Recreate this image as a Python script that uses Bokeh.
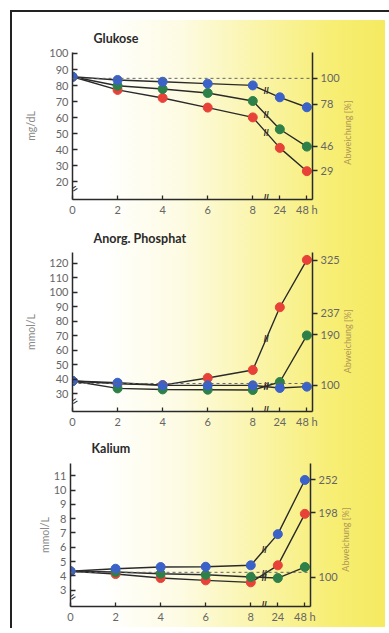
import numpy as np
from bokeh.plotting import figure
from bokeh.models import LinearAxis, FixedTicker, Span, Spacer
from bokeh.layouts import column, row
from bokeh.embed import file_html
from bokeh.resources import INLINE

# ---------------- data ----------------
hours = [0, 2, 4, 6, 8, 24, 48]
hour_labels = ["0", "2", "4", "6", "8", "24", "48 h"]

glu_title = "Glukose"
glu_unit = "mg/dL"
glu_blue = [85.5, 83.5, 82.4, 81.2, 80.1, 72.7, 66.5]
glu_green = [85.5, 79.9, 77.9, 75.4, 70.4, 52.8, 42.0]
glu_red = [85.5, 77.3, 72.3, 66.3, 60.2, 41.2, 26.7]
glu_base = 84.5
glu_ticks = [20, 30, 40, 50, 60, 70, 80, 90, 100]
glu_pct_pos = [84.5, 68.4, 42.3, 27.0]
glu_pct = ["100", "78", "46", "29"]

pho_title = "Anorg. Phosphat"
pho_unit = "mmol/L"
pho_blue = [38.9, 37.7, 36.0, 35.9, 35.9, 34.1, 35.0]
pho_green = [38.9, 33.8, 33.1, 32.9, 32.7, 38.2, 70.3]
pho_red = [38.9, 37.0, 36.1, 41.0, 46.5, 89.7, 122.3]
pho_base = 37.2
pho_ticks = [30, 40, 50, 60, 70, 80, 90, 100, 110, 120]
pho_pct_pos = [36.1, 70.8, 85.5, 122.1]
pho_pct = ["100", "190", "237", "325"]

kal_title = "Kalium"
kal_unit = "mmol/L"
kal_blue = [4.32, 4.50, 4.62, 4.64, 4.74, 6.92, 10.71]
kal_green = [4.32, 4.27, 4.15, 4.08, 3.92, 3.85, 4.62]
kal_red = [4.32, 4.13, 3.85, 3.69, 3.55, 4.74, 8.34]
kal_base = 4.25
kal_ticks = [3, 4, 5, 6, 7, 8, 9, 10, 11]
kal_pct_pos = [3.9, 8.43, 10.71]
kal_pct = ["100", "198", "252"]

pct_title = "Abweichung [%]"

BLUE, GREEN, RED = "#3b62c8", "#2e8049", "#e84238"
FONT = "Lato"
INK = "#2a2a2a"
RLAB_FS = 9.0

# broken time axis: 0..8 h linear, then compressed 24 h and 48 h
xpos = [float(v) for v in np.interp(hours, [0, 8, 24, 48], [0, 80, 92, 104])]


def pad(px, fs=RLAB_FS):
    """whitespace of roughly px pixels (em / en / thin spaces)"""
    n = int(px // fs)
    rem = px - n * fs
    s = "\u2003" * n
    if rem > 0.75 * fs:
        s += "\u2003"
    elif rem > 0.35 * fs:
        s += "\u2002"
    elif rem > 0.1 * fs:
        s += "\u2009"
    return s


def make_panel(title, unit, blue, green, red, base, yticks, pct_pos, pct_lab,
               yr, ybreak, frame_h, left, right, top, bottom, t_off, t_so,
               ylab_so, rgap):
    p = figure(frame_width=240, frame_height=frame_h,
               x_range=(0, 106.5), y_range=yr,
               output_backend="svg", toolbar_location=None,
               min_border_left=left, min_border_right=right,
               min_border_top=top, min_border_bottom=bottom,
               border_fill_color=None, background_fill_color=None,
               outline_line_color=None)
    p.grid.visible = False

    p.title.text = title
    p.title.align = "left"
    p.title.offset = t_off
    p.title.text_font = FONT
    p.title.text_font_size = "12.5px"
    p.title.text_font_style = "bold"
    p.title.text_color = INK
    p.title.standoff = t_so

    xa = p.xaxis[0]
    xa.ticker = FixedTicker(ticks=xpos)
    xa.major_label_overrides = {xp: lab for xp, lab in zip(xpos, hour_labels)}
    xa.minor_tick_line_color = None
    xa.major_tick_in = 4
    xa.major_tick_out = 0
    xa.major_label_standoff = 3

    ya = p.yaxis[0]
    ya.ticker = FixedTicker(ticks=yticks)
    ya.minor_tick_line_color = None
    ya.major_tick_in = 5
    ya.major_tick_out = 0
    ya.major_label_standoff = 4
    ya.axis_label = unit
    ya.axis_label_standoff = ylab_so
    ya.axis_label_text_font = FONT
    ya.axis_label_text_font_size = "10.5px"
    ya.axis_label_text_font_style = "normal"
    ya.axis_label_text_color = "#8a8a8a"

    ra = LinearAxis(ticker=FixedTicker(ticks=pct_pos),
                    major_label_overrides={v: s for v, s in zip(pct_pos, pct_lab)})
    ra.minor_tick_line_color = None
    ra.major_tick_in = 0
    ra.major_tick_out = 5
    ra.major_label_standoff = 3
    props = ra.properties()
    label_text = pct_title
    if "axis_label_orientation" in props:
        ra.axis_label_orientation = np.pi / 2      # read bottom-to-top
        if "axis_label_align" in props:
            ra.axis_label_align = "start"
            label_text = pad(rgap) + pct_title
    ra.axis_label = label_text
    ra.axis_label_standoff = 5
    ra.axis_label_text_font = FONT
    ra.axis_label_text_font_size = f"{RLAB_FS}px"
    ra.axis_label_text_font_style = "normal"
    ra.axis_label_text_color = "#b09656"
    p.add_layout(ra, "right")

    for ax in (xa, ya, ra):
        ax.axis_line_color = INK
        ax.axis_line_width = 1.5
        ax.major_tick_line_color = INK
        ax.major_tick_line_width = 1.3
        ax.major_label_text_font = FONT
        ax.major_label_text_font_size = "11px"
        ax.major_label_text_color = "#666666"

    p.add_layout(Span(location=base, dimension="width", line_color="#666666",
                      line_width=1, line_dash="3 3"))

    for ys in (red, green, blue):
        p.line(xpos, ys, line_color=INK, line_width=1.4)
    for ys, c in ((red, RED), (green, GREEN), (blue, BLUE)):
        p.scatter(xpos, ys, size=9, fill_color=c, line_color=c)

    # break marks on the 8 h -> 24 h segments
    mx = [(xpos[4] + xpos[5]) / 2] * 3
    my = [(s[4] + s[5]) / 2 for s in (red, green, blue)]
    p.text(mx, my, text=["//"] * 3, text_align="center", text_baseline="middle",
           text_font_size="9px", text_font_style="bold", text_color=INK)

    # axis break marks
    p.text([0], [ybreak], text=["="], x_offset=2, angle=0.6,
           text_align="center", text_baseline="middle",
           text_font_size="10px", text_font_style="bold", text_color=INK)
    p.text([(xpos[4] + xpos[5]) / 2], [yr[0]], text=["//"], y_offset=-2,
           text_align="center", text_baseline="middle",
           text_font_size="9px", text_font_style="bold", text_color=INK)
    return p


p1 = make_panel(glu_title, glu_unit, glu_blue, glu_green, glu_red, glu_base,
                glu_ticks, glu_pct_pos, glu_pct, (9.06, 100.6), 15.9,
                147, 57, 63, 52, 23, 21, 13, 9, 48)
p2 = make_panel(pho_title, pho_unit, pho_blue, pho_green, pho_red, pho_base,
                pho_ticks, pho_pct_pos, pho_pct, (17.9, 127.4), 25.1,
                159, 57, 63, 28, 19, 21, 13, 9, 51)
p3 = make_panel(kal_title, kal_unit, kal_blue, kal_green, kal_red, kal_base,
                kal_ticks, kal_pct_pos, kal_pct, (1.86, 11.86), 2.54,
                143, 31, 68, 32, 25, 21, 16, 0, 46)

bg = ("linear-gradient(#222,#222) 10px 10px / 100% 2px no-repeat, "
      "linear-gradient(#222,#222) 10px 10px / 2px 100% no-repeat, "
      "linear-gradient(90deg, #ffffff 0px, #ffffff 90px, #fdfbe2 170px, "
      "#faf4a6 250px, #f7ee74 320px, #f5ea60 373px) 12px 20px / 373px 607px no-repeat, "
      "#ffffff")
layout = column(row(Spacer(width=15), p1),
                row(Spacer(width=15), p2),
                row(Spacer(width=35), p3),
                styles={"background": bg}, width=389, height=628)

open("out.html", "w").write(file_html(layout, INLINE))
